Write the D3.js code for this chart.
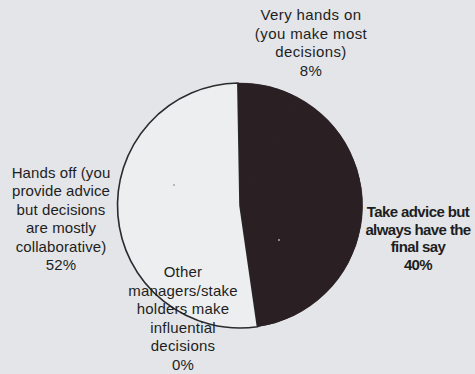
<!DOCTYPE html>
<html>
<head>
<meta charset="utf-8">
<script src="https://cdn.jsdelivr.net/npm/d3@7"></script>
<style>
html,body{margin:0;padding:0;background:#e3e5e8;}
svg{display:block;}
</style>
</head>
<body>
<svg id="chart" width="475" height="374"></svg>
<script>
// ---- data ----
const categories = [
  "Very hands on (you make most decisions)",
  "Take advice but always have the final say",
  "Other managers/stake holders make influential decisions",
  "Hands off (you provide advice but decisions are mostly collaborative)"
];
const values = [8, 40, 0, 52];
const labelLines = [
  ["Very hands on", "(you make most", "decisions)", "8%"],
  ["Take advice but", "always have the", "final say", "40%"],
  ["Other", "managers/stake", "holders make", "influential", "decisions", "0%"],
  ["Hands off (you", "provide advice", "but decisions", "are mostly", "collaborative)", "52%"]
];

// ---- layout / style ----
const W = 475, H = 374;
const cx = 240, cy = 205.5, R = 122.5;
const startDeg = -1;
const fills = ["#2a2023", "#2a2023", "#2a2023", "#eceef0"];
const FONT = "Liberation Sans, Arial, sans-serif";
const labelLayout = [
  {x: 311, y: 20, weight: 400, size: 15, ls: 0.4, lh: 18.5},
  {x: 418, y: 217, weight: 700, size: 15, ls: -0.6, lh: 17.7},
  {x: 183, y: 277, weight: 400, size: 15, ls: 0.2, lh: 18.6},
  {x: 61, y: 178, weight: 400, size: 15, ls: 0.1, lh: 18.4}
];

const svg = d3.select("#chart");
svg.append("rect").attr("width", W).attr("height", H).attr("fill", "#e3e5e8");

const pie = d3.pie().sort(null).value(d => d)
  .startAngle(startDeg * Math.PI / 180)
  .endAngle(2 * Math.PI + startDeg * Math.PI / 180);
const arcs = pie(values);
const arc = d3.arc().innerRadius(0).outerRadius(R);

const g = svg.append("g").attr("transform", `translate(${cx},${cy})`);
g.selectAll("path.slice").data(arcs).enter().append("path")
  .attr("class", "slice")
  .attr("d", arc)
  .attr("fill", (d, i) => fills[i])
  .attr("stroke", (d, i) => i === 3 ? "#2b2b2e" : fills[i])
  .attr("stroke-width", (d, i) => i === 3 ? 1.6 : 0.5);
// redraw dark slices on top so the outline doesn't show over them
g.selectAll("path.dark").data(arcs.slice(0, 2)).enter().append("path")
  .attr("d", arc).attr("fill", (d, i) => fills[i]);

// small specks from the scan
svg.append("circle").attr("cx", 174).attr("cy", 185).attr("r", 0.8).attr("fill", "#777");
svg.append("circle").attr("cx", 279).attr("cy", 240).attr("r", 0.9).attr("fill", "#bbb");

// labels
labelLines.forEach((lines, i) => {
  const L = labelLayout[i];
  const t = svg.append("text")
    .attr("text-anchor", "middle")
    .attr("font-family", FONT)
    .attr("font-size", L.size)
    .attr("font-weight", L.weight)
    .attr("letter-spacing", L.ls)
    .attr("fill", "#1e1e22");
  lines.forEach((s, j) => {
    t.append("tspan").attr("x", L.x).attr("y", L.y + j * L.lh).text(s);
  });
});
</script>
</body>
</html>
